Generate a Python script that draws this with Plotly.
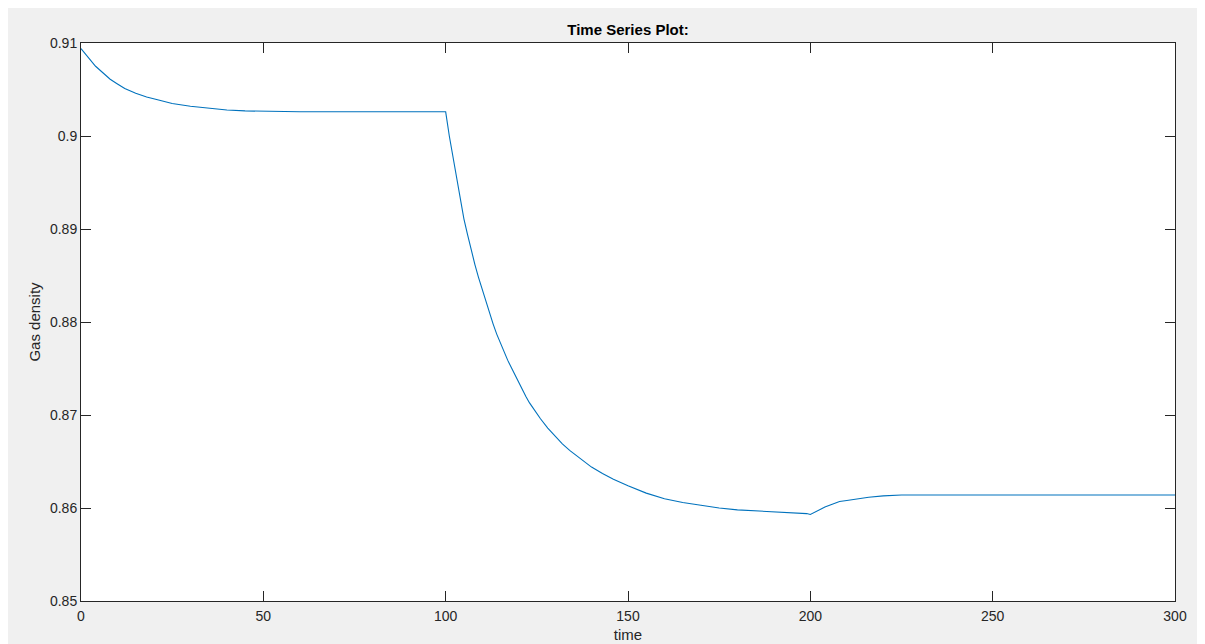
import plotly.graph_objects as go

time = [0, 2, 4, 6, 8, 10, 12, 15, 18, 21, 25, 30, 35, 40, 45, 50, 60, 80, 100,
        101, 102, 103, 104, 105, 106, 107, 108, 109, 110, 111, 112, 113, 114,
        115, 116, 117, 118, 119, 120, 121, 122, 123, 124, 126, 128, 130,
        132, 134, 136, 138, 140, 143, 146, 150, 155, 160, 165, 170, 175, 180,
        185, 190, 195, 199, 200, 202, 204, 206, 208, 210, 213, 216,
        220, 225, 230, 240, 260, 280, 300]
gas_density = [0.9094, 0.9084, 0.9075, 0.9068, 0.9061, 0.9056, 0.9051, 0.9046,
               0.9042, 0.9039, 0.9035, 0.9032, 0.9030, 0.9028, 0.9027, 0.90265,
               0.9026, 0.9026, 0.9026,
               0.9000, 0.8977, 0.8953, 0.8931, 0.8911, 0.8894, 0.8877, 0.8862,
               0.8848, 0.8835, 0.8822, 0.8809, 0.8798, 0.8787,
               0.8777, 0.8768, 0.8759, 0.8751, 0.8743, 0.8735, 0.8727, 0.8720,
               0.8713, 0.8707, 0.8696, 0.8686, 0.8677,
               0.8669, 0.8662, 0.8656, 0.8650, 0.8644, 0.8637, 0.8631, 0.8624,
               0.8616, 0.8610, 0.8606, 0.8603, 0.8600, 0.8598,
               0.8597, 0.8596, 0.8595, 0.8594, 0.8593, 0.8597, 0.8601, 0.8604,
               0.8607, 0.8608, 0.8610, 0.86115,
               0.8613, 0.8614, 0.8614, 0.8614, 0.8614, 0.8614, 0.8614]

x_ticks = [0, 50, 100, 150, 200, 250, 300]
y_ticks = [0.85, 0.86, 0.87, 0.88, 0.89, 0.90, 0.91]
y_tick_labels = ["0.85", "0.86", "0.87", "0.88", "0.89", "0.9", "0.91"]

# page body has an 8px margin, so the figure starts at (8, 8)
W, H = 1197, 636
L, R, T, B = 73, 30, 35, 43

fig = go.Figure()
fig.add_trace(go.Scatter(x=time, y=gas_density, mode="lines",
                         line=dict(color="#0072BD", width=1.1),
                         showlegend=False))

font_family = "Liberation Sans, Arial"
axis_common = dict(showgrid=False, zeroline=False, showline=True,
                   linecolor="#262626", linewidth=1, mirror="ticks",
                   ticks="inside", ticklen=10, tickwidth=1, tickcolor="#262626",
                   tickfont=dict(family=font_family, size=14, color="#262626"))

fig.update_xaxes(range=[0, 300], tickvals=x_ticks, ticktext=[str(v) for v in x_ticks],
                 ticklabelstandoff=2,
                 title=dict(text="time", standoff=6,
                            font=dict(family=font_family, size=15, color="#262626")),
                 **axis_common)
fig.update_yaxes(range=[0.85, 0.91], tickvals=y_ticks, ticktext=y_tick_labels,
                 title=dict(text="Gas density", standoff=5,
                            font=dict(family=font_family, size=15, color="#262626")),
                 **axis_common)

fig.update_layout(
    width=W, height=H,
    margin=dict(l=L, r=R, t=T, b=B, autoexpand=False),
    paper_bgcolor="#f0f0f0", plot_bgcolor="white",
    title=dict(text="<b>Time Series Plot:</b>", x=(L + (W - L - R) / 2) / W, xanchor="center",
               y=1 - 22 / H, yanchor="middle",
               font=dict(family=font_family, size=15, color="#000000")),
)

fig.write_html("out.html")
